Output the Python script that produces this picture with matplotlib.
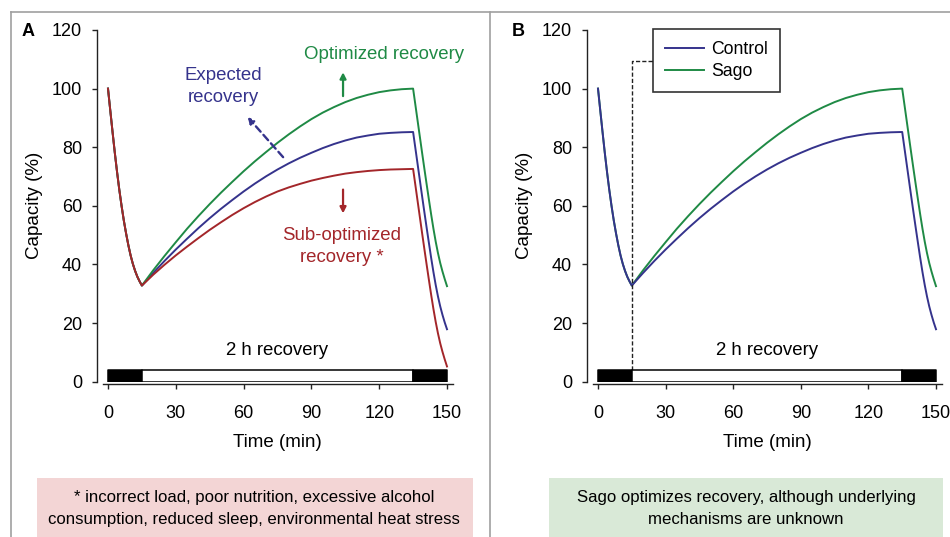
import matplotlib
matplotlib.use('Agg')
import matplotlib.pyplot as plt
from matplotlib.lines import Line2D
from matplotlib.patches import Rectangle

plt.rcParams['font.family'] = ['Liberation Sans', 'DejaVu Sans']

# ---------------- data ----------------
time_min = [0, 1, 2, 3, 4, 5, 6, 7, 8, 9, 10, 11, 12, 13, 14, 15,
            20, 25, 30, 35, 40, 45, 50, 55, 60, 65, 70, 75, 80, 85, 90,
            95, 100, 105, 110, 115, 120, 125, 130, 135,
            136, 137, 138, 139, 140, 141, 142, 143, 144, 145, 146, 147,
            148, 149, 150]

exercise_drop = [100, 92.6, 85.3, 78.2, 71.6, 65.5, 60.0, 55.0, 50.6, 46.6,
                 43.1, 40.2, 37.8, 35.8, 34.2, 32.8]

optimized = exercise_drop + [
    38.0, 42.9, 47.6, 52.2, 56.5, 60.6, 64.5, 68.2, 71.8, 75.2, 78.4, 81.5,
    84.4, 87.1, 89.6, 91.8, 93.7, 95.4, 96.8, 97.9, 98.8, 99.4, 99.8, 100.0,
    94.5, 89.0, 83.5, 78.0, 72.6, 67.3, 62.1, 57.0, 52.2, 47.8, 43.9, 40.5,
    37.6, 35.0, 32.6]

expected = exercise_drop + [
    37.1, 41.2, 45.1, 48.8, 52.4, 55.8, 59.0, 62.0, 64.9, 67.6, 70.1, 72.4,
    74.5, 76.4, 78.1, 79.7, 81.1, 82.3, 83.3, 84.0, 84.6, 84.9, 85.1, 85.2,
    79.7, 74.2, 68.7, 63.2, 57.8, 52.5, 47.3, 42.2, 37.4, 33.0, 29.1, 25.7,
    22.8, 20.2, 17.9]

sub_optimized = exercise_drop + [
    36.5, 39.9, 43.1, 46.1, 49.0, 51.8, 54.4, 56.9, 59.2, 61.3, 63.2, 64.9,
    66.3, 67.5, 68.6, 69.5, 70.3, 71.0, 71.5, 71.9, 72.2, 72.4, 72.5, 72.6,
    67.1, 61.6, 56.1, 50.6, 45.2, 39.9, 34.7, 29.6, 24.8, 20.4, 16.5, 13.1,
    10.2, 7.6, 5.2]

# exercise / recovery / exercise phases (start, duration, colour)
phase_start = [0, 15, 135]
phase_length = [15, 120, 15]
phase_color = ['black', 'white', 'black']
phase_bar_height = 4

x_ticks = [0, 30, 60, 90, 120, 150]
y_ticks = [0, 20, 40, 60, 80, 100, 120]

GREEN = '#1f8a45'
BLUE = '#35338c'
RED = '#a3262a'

TICK_FS = 13
LABEL_FS = 13.5
ANN_FS = 13.4

W, H = 950, 537
fig = plt.figure(figsize=(W / 100, H / 100), dpi=100)


def fx(px):
    return px / W


def fy(py):
    return 1 - py / H


# panel frame lines
frame_col = '#a0a0a0'
fig.add_artist(Line2D([fx(11), fx(950)], [fy(12), fy(12)], color=frame_col, lw=1.2))
fig.add_artist(Line2D([fx(11), fx(11)], [fy(12), fy(537)], color=frame_col, lw=1.2))
fig.add_artist(Line2D([fx(490), fx(490)], [fy(12), fy(537)], color=frame_col, lw=1.2))


def make_axes(x0_px, x150_px):
    ppu = (x150_px - x0_px) / 150.0
    left = x0_px - 2.2 * ppu
    right = x150_px + 2.5 * ppu
    ax = fig.add_axes([fx(left), fy(381.7), (right - left) / W, 351.7 / H])
    ax.set_xlim(-2.2, 152.5)
    ax.set_ylim(0, 120)
    for s in ['top', 'right']:
        ax.spines[s].set_visible(False)
    ax.spines['left'].set_position(('outward', 4.3))
    ax.spines['left'].set_bounds(0, 120)
    ax.spines['bottom'].set_position(('outward', 1.9))
    for s in ['left', 'bottom']:
        ax.spines[s].set_linewidth(1.0)
        ax.spines[s].set_color('#222222')
    ax.set_xticks(x_ticks)
    ax.set_yticks(y_ticks)
    ax.tick_params(axis='both', direction='out', length=3.3, width=1.0,
                   color='#222222', labelsize=TICK_FS)
    ax.tick_params(axis='y', pad=7.5)
    ax.tick_params(axis='x', pad=11.5)
    ax.set_ylabel('Capacity (%)', fontsize=LABEL_FS)
    ax.set_xlabel('Time (min)', fontsize=LABEL_FS)
    ax.yaxis.set_label_coords(-0.173, 0.5)
    ax.xaxis.set_label_coords(0.5, -0.15)
    ax.broken_barh(list(zip(phase_start, phase_length)), (0, phase_bar_height),
                   facecolors=phase_color, edgecolor='black', linewidth=1.1,
                   zorder=4)
    ax.text(75, 10.5, '2 h recovery', ha='center', va='center', fontsize=ANN_FS)
    return ax


ARROW = '-|>,head_length=0.35,head_width=0.18'

# ---------------- panel A ----------------
axA = make_axes(108, 447)
axA.plot(time_min, expected, color=BLUE, lw=1.4)
axA.plot(time_min, optimized, color=GREEN, lw=1.4)
axA.plot(time_min, sub_optimized, color=RED, lw=1.4)

axA.text(122, 111.7, 'Optimized recovery', color=GREEN, ha='center',
         va='center', fontsize=ANN_FS)
axA.annotate('', xy=(104, 106.5), xytext=(104, 96.5),
             arrowprops=dict(arrowstyle=ARROW, color=GREEN, lw=1.6))
axA.text(51, 100.7, 'Expected\nrecovery', color=BLUE, ha='center',
         va='center', fontsize=ANN_FS, linespacing=1.36)
axA.annotate('', xy=(61, 91), xytext=(78.3, 75.9),
             arrowprops=dict(arrowstyle=ARROW, color=BLUE, lw=1.7,
                             linestyle=(0, (3, 1.8))))
axA.annotate('', xy=(104, 56.5), xytext=(104, 66.5),
             arrowprops=dict(arrowstyle=ARROW, color=RED, lw=1.6))
axA.text(103.5, 46.1, 'Sub-optimized\nrecovery *', color=RED, ha='center',
         va='center', fontsize=ANN_FS, linespacing=1.42)
fig.text(fx(28), fy(31), 'A', fontsize=13, fontweight='bold',
         ha='center', va='center')

# ---------------- panel B ----------------
axB = make_axes(598, 936)
lg_sago, = axB.plot(time_min, optimized, color=GREEN, lw=1.4, label='Sago')
lg_ctrl, = axB.plot(time_min, expected, color=BLUE, lw=1.4, label='Control')
sago_time = 15
marker_top = 109.3
marker_end = 24.3
axB.plot([sago_time, sago_time, marker_end],
         [phase_bar_height, marker_top, marker_top],
         color='#222222', lw=1.0, linestyle=(0, (3, 1.5)), zorder=3)
leg = axB.legend(handles=[lg_ctrl, lg_sago], loc='upper left',
                 bbox_to_anchor=(fx(652.7), fy(29.3)),
                 bbox_transform=fig.transFigure, borderaxespad=0,
                 fontsize=12.7, frameon=True, fancybox=False,
                 handlelength=2.2, handletextpad=0.45, labelspacing=0.26,
                 borderpad=0.68)
leg.get_frame().set_edgecolor('black')
leg.get_frame().set_linewidth(1.2)
fig.text(fx(518), fy(31), 'B', fontsize=13, fontweight='bold',
         ha='center', va='center')

# ---------------- note boxes ----------------
fig.add_artist(Rectangle((fx(37), 0), fx(473) - fx(37), fy(477.5),
                         facecolor='#f3d5d5', edgecolor='none'))
fig.add_artist(Rectangle((fx(549), 0), fx(943) - fx(549), fy(477.5),
                         facecolor='#d9e9d7', edgecolor='none'))
fig.text(fx(254), fy(508.5),
         '* incorrect load, poor nutrition, excessive alcohol\n'
         'consumption, reduced sleep, environmental heat stress',
         ha='center', va='center', fontsize=12.1, linespacing=1.58)
fig.text(fx(746), fy(508.5),
         'Sago optimizes recovery, although underlying\n'
         'mechanisms are unknown',
         ha='center', va='center', fontsize=12.1, linespacing=1.58)

fig.savefig('out.png', dpi=100)
